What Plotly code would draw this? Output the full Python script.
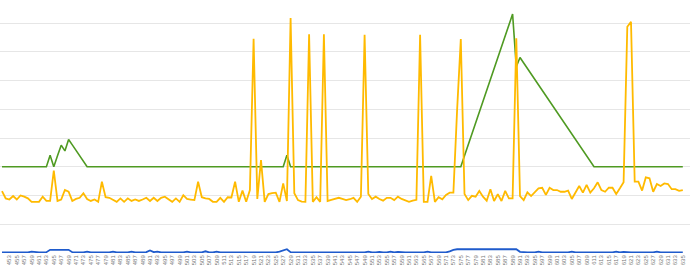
import plotly.graph_objects as go

categories = list(range(451, 636))

yellow = [
    21.5, 19.0, 18.6, 19.8, 18.6, 20.0, 19.6, 19.0, 17.8, 17.8,
    17.8, 19.6, 18.1, 18.1, 28.7, 18.1, 18.6, 21.9, 21.3, 18.1,
    18.8, 19.2, 20.8, 18.8, 18.1, 18.6, 17.8, 24.8, 19.4, 19.2,
    18.4, 17.8, 19.0, 17.8, 19.0, 18.1, 18.6, 18.1, 18.6, 19.2,
    18.1, 19.2, 18.1, 19.2, 19.6, 18.6, 17.8, 19.0, 17.8, 20.1,
    18.8, 18.6, 18.4, 24.8, 19.4, 19.0, 18.8, 17.8, 17.8, 19.2,
    17.8, 19.4, 19.3, 24.8, 17.8, 21.7, 17.8, 21.9, 74.5, 18.8,
    32.3, 17.8, 20.5, 20.8, 21.0, 17.8, 24.2, 18.1, 81.7, 20.8,
    18.4, 17.9, 17.8, 76.1, 17.8, 19.4, 17.8, 76.1, 18.1, 18.5,
    18.8, 19.2, 18.8, 18.4, 18.7, 19.2, 17.8, 19.6, 75.9, 20.5,
    18.8, 19.6, 18.8, 18.2, 19.2, 19.2, 18.4, 19.6, 18.8, 18.2,
    17.8, 18.2, 18.5, 75.9, 17.8, 17.8, 26.8, 17.8, 19.4, 18.7,
    20.2, 21.0, 21.0, 49.7, 74.4, 20.5, 18.4, 19.9, 19.6, 21.6,
    19.6, 18.2, 22.2, 18.1, 20.5, 18.1, 21.6, 19.0, 19.0, 74.7,
    19.8, 18.4, 21.1, 19.8, 21.3, 22.5, 22.7, 20.2, 22.7, 21.9,
    21.9, 21.3, 21.3, 21.7, 18.8, 21.3, 23.3, 21.0, 23.7, 21.0,
    22.5, 24.6, 21.9, 21.3, 22.7, 22.7, 20.5, 22.5, 24.6, 78.7,
    80.4, 24.8, 24.8, 21.7, 26.3, 26.0, 21.3, 24.0, 23.3, 24.2,
    24.0, 22.2, 22.2, 21.6, 21.9,
]

green = [
    30, 30, 30, 30, 30, 30, 30, 30, 30, 30,
    30, 30, 30, 34, 30, 33.8, 37.5, 35.5, 39.5, 37.6,
    35.7, 33.8, 31.9, 30, 30, 30, 30, 30, 30, 30,
    30, 30, 30, 30, 30, 30, 30, 30, 30, 30,
    30, 30, 30, 30, 30, 30, 30, 30, 30, 30,
    30, 30, 30, 30, 30, 30, 30, 30, 30, 30,
    30, 30, 30, 30, 30, 30, 30, 30, 30, 30,
    30, 30, 30, 30, 30, 30, 30, 34, 30, 30,
    30, 30, 30, 30, 30, 30, 30, 30, 30, 30,
    30, 30, 30, 30, 30, 30, 30, 30, 30, 30,
    30, 30, 30, 30, 30, 30, 30, 30, 30, 30,
    30, 30, 30, 30, 30, 30, 30, 30, 30, 30,
    30, 30, 30, 30, 30, 33.8, 37.6, 41.4, 45.2, 49.0,
    52.8, 56.6, 60.4, 64.2, 68.0, 71.8, 75.6, 79.4, 83.1, 64.8,
    68.0, 66.1, 64.2, 62.3, 60.4, 58.5, 56.6, 54.7, 52.8, 50.9,
    49.0, 47.1, 45.2, 43.3, 41.4, 39.5, 37.6, 35.7, 33.8, 31.9,
    30, 30, 30, 30, 30, 30, 30, 30, 30, 30,
    30, 30, 30, 30, 30, 30, 30, 30, 30, 30,
    30, 30, 30, 30, 30,
]

blue = [
    0.2, 0.2, 0.2, 0.2, 0.2, 0.2, 0.2, 0.2, 0.5, 0.3,
    0.2, 0.2, 0.3, 1.1, 1.2, 1.1, 1.1, 1.0, 1.1, 0.3,
    0.2, 0.2, 0.2, 0.5, 0.2, 0.2, 0.2, 0.2, 0.2, 0.2,
    0.5, 0.2, 0.2, 0.2, 0.2, 0.5, 0.2, 0.2, 0.2, 0.3,
    0.9, 0.3, 0.5, 0.2, 0.2, 0.2, 0.2, 0.2, 0.2, 0.2,
    0.5, 0.2, 0.2, 0.2, 0.2, 0.6, 0.2, 0.2, 0.5, 0.2,
    0.2, 0.2, 0.2, 0.2, 0.2, 0.4, 0.2, 0.2, 0.2, 0.2,
    0.2, 0.2, 0.4, 0.2, 0.2, 0.5, 0.9, 1.3, 0.3, 0.3,
    0.2, 0.3, 0.2, 0.2, 0.3, 0.2, 0.2, 0.2, 0.4, 0.2,
    0.2, 0.2, 0.2, 0.4, 0.2, 0.2, 0.2, 0.2, 0.2, 0.5,
    0.2, 0.2, 0.4, 0.2, 0.2, 0.5, 0.2, 0.4, 0.2, 0.2,
    0.2, 0.2, 0.2, 0.2, 0.2, 0.5, 0.2, 0.2, 0.2, 0.2,
    0.2, 0.6, 1.1, 1.3, 1.3, 1.5, 1.4, 1.3, 1.5, 1.3,
    1.4, 1.4, 1.3, 1.4, 1.4, 1.5, 1.5, 1.5, 1.5, 1.3,
    0.4, 0.2, 0.2, 0.2, 0.2, 0.5, 0.2, 0.2, 0.2, 0.2,
    0.2, 0.4, 0.2, 0.2, 0.5, 0.2, 0.2, 0.2, 0.2, 0.2,
    0.2, 0.2, 0.2, 0.2, 0.2, 0.2, 0.5, 0.2, 0.4, 0.2,
    0.2, 0.2, 0.2, 0.2, 0.2, 0.2, 0.2, 0.5, 0.2, 0.2,
    0.2, 0.2, 0.2, 0.2, 0.2,
]

tick_labels = [str(c) for c in range(451, 636, 2)]

fig = go.Figure()
fig.add_trace(go.Scatter(x=categories, y=blue, mode="lines",
                         line=dict(color="#1F5BCC", width=1.8)))
fig.add_trace(go.Scatter(x=categories, y=green, mode="lines",
                         line=dict(color="#4F9A22", width=1.6)))
fig.add_trace(go.Scatter(x=categories, y=yellow, mode="lines",
                         line=dict(color="#FFBA00", width=1.8)))

s = 3.7
fig.update_layout(
    width=690, height=275,
    margin=dict(l=0, r=0, t=0, b=22),
    paper_bgcolor="white", plot_bgcolor="white",
    showlegend=False,
    xaxis=dict(
        range=[451 - 2 / s, 451 - 2 / s + 690 / s],
        tickmode="array",
        tickvals=list(range(451, 636, 2)),
        ticktext=tick_labels,
        tickangle=-90,
        tickfont=dict(family="Liberation Sans", size=6, color="#777777"),
        showgrid=False, zeroline=False, showline=False, ticks="",
    ),
    yaxis=dict(
        range=[0, 88], dtick=10,
        showticklabels=False, showgrid=True,
        gridcolor="#e6e6e6", gridwidth=1,
        zeroline=False, showline=False, ticks="",
    ),
)

fig.write_html("out.html")
